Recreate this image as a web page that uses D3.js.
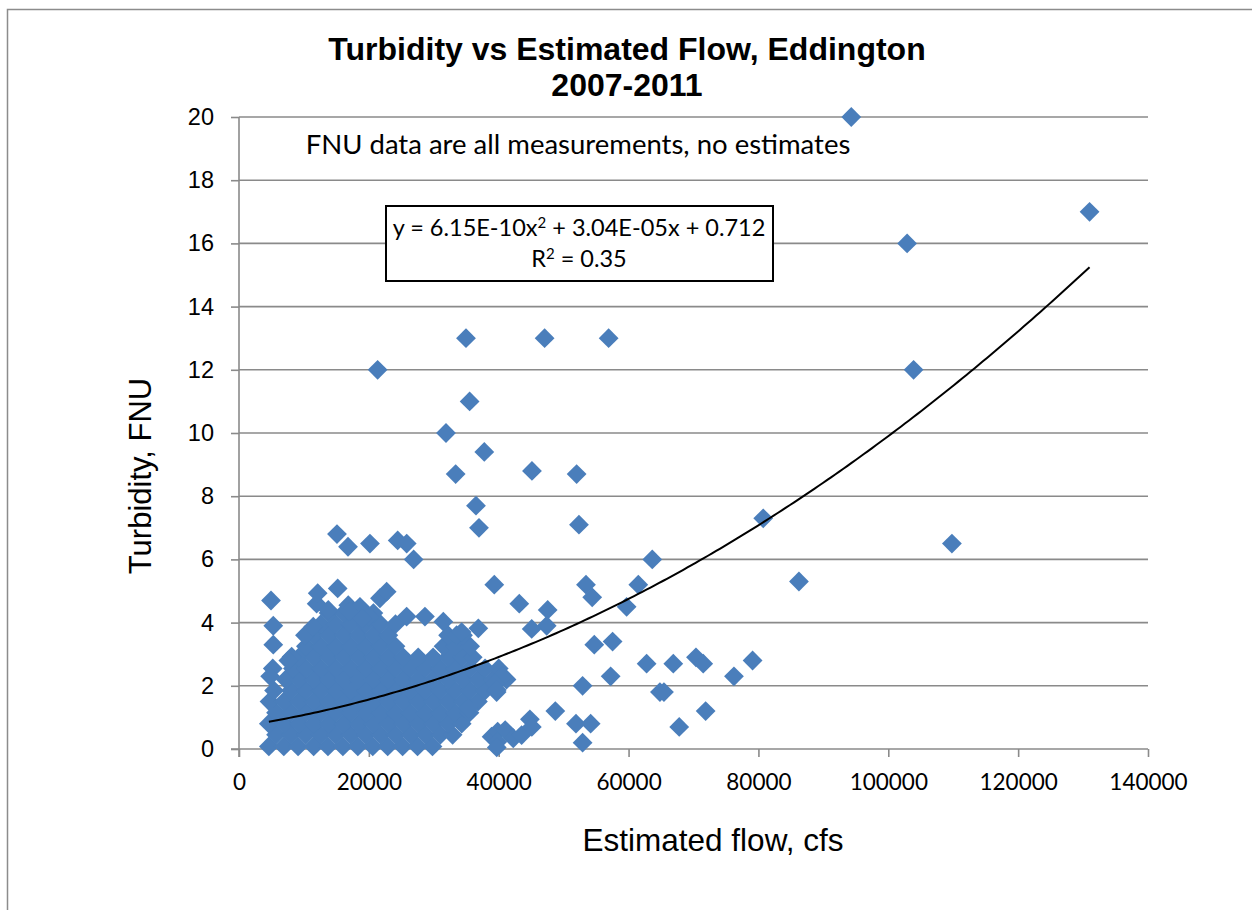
<!DOCTYPE html>
<html>
<head>
<meta charset="utf-8">
<script src="https://cdn.jsdelivr.net/npm/d3@7/dist/d3.min.js"></script>
<style>
  html, body { margin: 0; padding: 0; background: #fff; }
  svg { display: block; }
</style>
</head>
<body>
<svg id="chart" width="1252" height="910"></svg>
<script>
// Turbidity (FNU) against estimated flow (cfs), Eddington 2007-2011

// Dense low-flow observations, grouped by turbidity level: [turbidity, flows...]
const denseRows = [
  [0.08, [4600, 6900, 9100, 11500, 13700, 16000, 18300, 20600, 22900, 25200, 27500, 29800]],
  [0.45, [5700, 8000, 10300, 12600, 14900, 17200, 19500, 21800, 24100, 26400, 28700, 31000, 32900]],
  [0.80, [4600, 6900, 9200, 11500, 13800, 16100, 18400, 20700, 23000, 25300, 27600, 29900, 32200, 34300]],
  [1.15, [5700, 8000, 10300, 12600, 14900, 17200, 19500, 21800, 24100, 26400, 28700, 31000, 33300, 35500]],
  [1.50, [4700, 6900, 9200, 11500, 13800, 16100, 18400, 20700, 23000, 25300, 27600, 29900, 32200, 34500, 36800]],
  [1.85, [5400, 8000, 10300, 12600, 14900, 17200, 19500, 21800, 24100, 26400, 28700, 31000, 33300, 35600, 37900]],
  [2.20, [7200, 9200, 11500, 13800, 16100, 18400, 20700, 23000, 25300, 27600, 29900, 32200, 34500, 36800, 39100, 41200]],
  [2.55, [8300, 10300, 12600, 14900, 17200, 19500, 21800, 24100, 26400, 28700, 31000, 33300, 35600, 37900, 40000]],
  [2.90, [9200, 11500, 13800, 16100, 18400, 20700, 23000, 25300, 27600, 29900, 32200, 34400, 36000]],
  [3.25, [10300, 12600, 14900, 17200, 19500, 21800, 24100, 31500, 33300, 35600]],
  [3.60, [11500, 13800, 16100, 18400, 20700, 23000, 32200, 34500]],
  [3.95, [12600, 14900, 17200, 19500, 21800, 24100]],
  [4.30, [13800, 16100, 18400, 20700]]
];

// Individual observations: [flow cfs, turbidity FNU]
const sparseObs = [
  [4930, 4.7], [5280, 3.9], [5280, 3.3], [5200, 2.55], [4800, 2.3], [8110, 2.92], [7600, 2.8],
  [10160, 3.6], [11440, 3.87], [11960, 4.6], [12120, 4.93], [13750, 4.4], [15200, 5.08],
  [16830, 4.55], [18630, 4.5], [20000, 4.2], [21710, 4.77], [22740, 4.98], [19000, 4.13],
  [17000, 4.35], [25820, 4.19], [28640, 4.19], [31470, 4.03], [36860, 3.82], [33520, 3.6],
  [34290, 3.7], [39320, 5.2], [40450, 2.3], [40650, 2.28], [39420, 2.08], [39680, 1.8],
  [39700, 1.87], [35320, 1.29], [38900, 0.39], [39840, 0.55], [41000, 0.6], [42240, 0.34],
  [43530, 0.44], [39800, 0.23], [39700, 0.05], [43170, 4.6], [47540, 4.4], [47390, 3.9],
  [45080, 3.8], [44800, 0.94], [45100, 0.7], [48720, 1.2],
  [15090, 6.8], [16790, 6.4], [20170, 6.5], [24440, 6.6], [25830, 6.5], [26900, 6.0],
  [21350, 12], [31880, 10], [33370, 8.7], [34960, 13], [35520, 11], [37780, 9.4],
  [36500, 7.7], [36960, 7.0], [45120, 8.8], [47070, 13], [52000, 8.7], [52360, 7.1],
  [56930, 13], [63650, 6.0], [53440, 5.2], [54400, 4.8], [61500, 5.2], [59700, 4.5],
  [54720, 3.3], [57540, 3.4], [62780, 2.7], [66890, 2.7], [70380, 2.9], [71500, 2.7],
  [76230, 2.3], [79100, 2.8], [57240, 2.3], [52920, 2.0], [64830, 1.8], [65450, 1.8],
  [71870, 1.2], [67800, 0.7], [51900, 0.8], [54160, 0.8], [52920, 0.2],
  [80740, 7.3], [86240, 5.3], [94300, 20], [102900, 16], [103900, 12], [109800, 6.5], [131000, 17]
];

// Quadratic trend fitted to the observations
const trendCoef = [0.712, 3.04e-5, 6.15e-10];
const trendLabel = ["y = 6.15E-10x", "2", " + 3.04E-05x + 0.712"];
const r2Label = ["R", "2", " = 0.35"];

const xTicks = [0, 20000, 40000, 60000, 80000, 100000, 120000, 140000];
const yTicks = [0, 2, 4, 6, 8, 10, 12, 14, 16, 18, 20];

const titleLines = ["Turbidity vs Estimated Flow, Eddington", "2007-2011"];
const noteText = "FNU data are all measurements, no estimates";
const xTitle = "Estimated flow, cfs";
const yTitle = "Turbidity, FNU";

// ---- build point list ----
const points = [];
denseRows.forEach(([t, flows]) => flows.forEach(f => points.push({ flow: f, turb: t })));
sparseObs.forEach(([f, t]) => points.push({ flow: f, turb: t }));

const svg = d3.select("#chart");
const arial = "'Liberation Sans', Arial, sans-serif";
const calibri = "Lato, 'Open Sans', sans-serif";
const gridColor = "#8a8a8a";
const markerColor = "#4a7ebb";

// outer chart frame
svg.append("rect")
  .attr("x", 7.5).attr("y", 9.5).attr("width", 1400).attr("height", 1000)
  .attr("fill", "#fff").attr("stroke", "#8c8c8c").attr("stroke-width", 1.5);

const x = d3.scaleLinear().domain([0, 140000]).range([239, 1148]);
const y = d3.scaleLinear().domain([0, 20]).range([749, 117]);

// horizontal gridlines
svg.append("g")
  .selectAll("line").data(yTicks.filter(v => v > 0)).join("line")
  .attr("x1", x(0)).attr("x2", x(140000))
  .attr("y1", d => y(d)).attr("y2", d => y(d))
  .attr("stroke", gridColor).attr("stroke-width", 1.6);

// y axis
const yAxis = svg.append("g")
  .attr("transform", `translate(${x(0)},0)`)
  .call(d3.axisLeft(y).tickValues(yTicks).tickSize(8).tickPadding(17).tickFormat(d3.format("d")));
yAxis.select(".domain").attr("stroke", gridColor).attr("stroke-width", 1.6)
  .attr("d", `M0,${y(20)}V${y(0) + 8}`);
yAxis.selectAll(".tick line").attr("stroke", gridColor).attr("stroke-width", 1.6);
yAxis.selectAll(".tick text").attr("font-family", arial).attr("font-size", 23.5).attr("fill", "#000");

// x axis
const xAxis = svg.append("g")
  .attr("transform", `translate(0,${y(0)})`)
  .call(d3.axisBottom(x).tickValues(xTicks).tickSize(8).tickPadding(17).tickFormat(d3.format("d")));
xAxis.select(".domain").attr("stroke", gridColor).attr("stroke-width", 1.6)
  .attr("d", `M${x(0) - 8},0H${x(140000)}`);
xAxis.selectAll(".tick line").attr("stroke", gridColor).attr("stroke-width", 1.6);
xAxis.selectAll(".tick text").attr("font-family", calibri).attr("font-size", 22.5).attr("fill", "#000");

// markers
const diamond = d3.symbol().type(d3.symbolSquare).size(196);
svg.append("g")
  .selectAll("path").data(points).join("path")
  .attr("d", diamond)
  .attr("transform", d => `translate(${x(d.flow)},${y(d.turb)}) rotate(45)`)
  .attr("fill", markerColor);

// trend curve over the observed flow range
const fMin = d3.min(points, d => d.flow), fMax = d3.max(points, d => d.flow);
const trend = d3.range(0, 201).map(i => {
  const f = fMin + (fMax - fMin) * i / 200;
  return [f, trendCoef[0] + trendCoef[1] * f + trendCoef[2] * f * f];
});
svg.append("path")
  .datum(trend)
  .attr("d", d3.line().x(d => x(d[0])).y(d => y(d[1])))
  .attr("fill", "none").attr("stroke", "#000").attr("stroke-width", 2);

// title
svg.append("text").attr("x", 627).attr("y", 60).attr("text-anchor", "middle")
  .attr("font-family", arial).attr("font-weight", "bold").attr("font-size", 32)
  .text(titleLines[0]);
svg.append("text").attr("x", 627).attr("y", 96).attr("text-anchor", "middle")
  .attr("font-family", arial).attr("font-weight", "bold").attr("font-size", 32)
  .text(titleLines[1]);

// note
svg.append("text").attr("x", 578).attr("y", 154).attr("text-anchor", "middle")
  .attr("font-family", calibri).attr("font-size", 27.5).text(noteText);

// equation box
svg.append("rect").attr("x", 386).attr("y", 206).attr("width", 387).attr("height", 75)
  .attr("fill", "#fff").attr("stroke", "#000").attr("stroke-width", 2);
const eq = svg.append("text").attr("x", 579).attr("y", 236).attr("text-anchor", "middle")
  .attr("font-family", calibri).attr("font-size", 23.5);
eq.append("tspan").text(trendLabel[0]);
eq.append("tspan").attr("dy", -8).attr("font-size", 15).text(trendLabel[1]);
eq.append("tspan").attr("dy", 8).text(trendLabel[2]);
const r2 = svg.append("text").attr("x", 579).attr("y", 267).attr("text-anchor", "middle")
  .attr("font-family", calibri).attr("font-size", 23.5);
r2.append("tspan").text(r2Label[0]);
r2.append("tspan").attr("dy", -8).attr("font-size", 15).text(r2Label[1]);
r2.append("tspan").attr("dy", 8).text(r2Label[2]);

// axis titles
svg.append("text").attr("x", 713).attr("y", 851).attr("text-anchor", "middle")
  .attr("font-family", arial).attr("font-size", 31.5).text(xTitle);
svg.append("text").attr("transform", "translate(151,476) rotate(-90)").attr("text-anchor", "middle")
  .attr("font-family", arial).attr("font-size", 31).text(yTitle);
</script>
</body>
</html>
